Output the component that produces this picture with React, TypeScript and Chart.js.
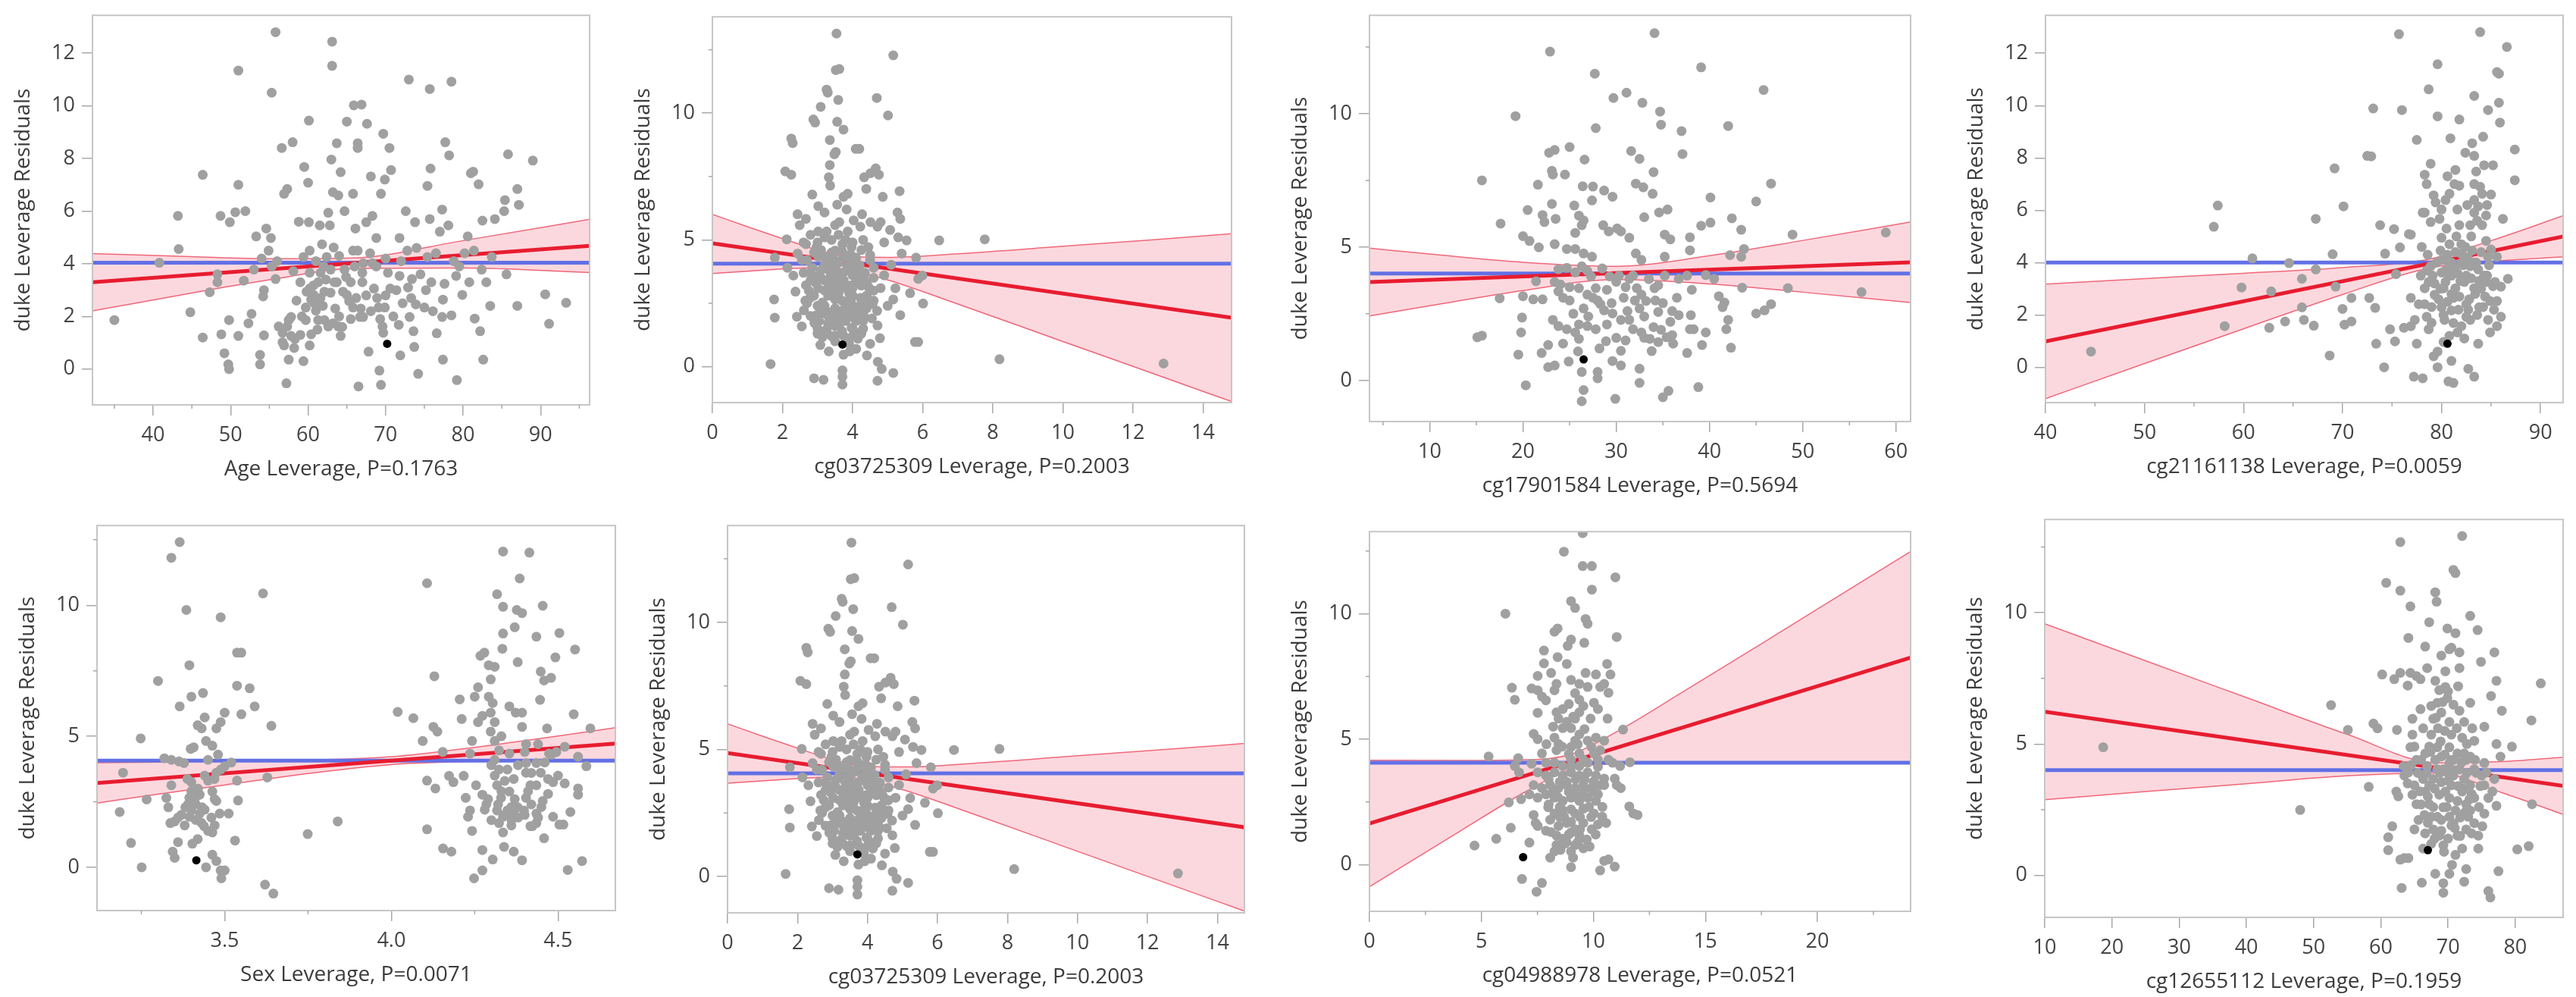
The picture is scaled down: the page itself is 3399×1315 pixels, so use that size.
import React, { useEffect, useRef } from 'react';
import { Chart, registerables } from 'chart.js';

Chart.register(...registerables);

type Pair = [number, number];

const Y_TITLE = 'duke Leverage Residuals';
const FONT = "'Open Sans', 'DejaVu Sans', sans-serif";
const Y_AXIS_W = 108;
const X_AXIS_H = 102;
const PAD_T = 20;
const PAD_R = 20;

const GREY = 'rgb(160,160,160)';
const RED = 'rgb(232,28,48)';
const BLUE = 'rgb(98,112,230)';
const BAND = 'rgba(235,60,90,0.2)';
const BAND_EDGE = 'rgba(238,90,110,0.9)';
const TICK_COLOR = '#a8a8a8';

// ---------- Panel 1: Age ----------
const ageXMajor = [40, 50, 60, 70, 80, 90];
const ageXMinor = [35, 45, 55, 65, 75, 85, 95];
const ageXLabels = ['40', '50', '60', '70', '80', '90'];
const evenYMajor = [0, 2, 4, 6, 8, 10, 12];
const evenYLabels = ['0', '2', '4', '6', '8', '10', '12'];
const noMinor: number[] = [];
const agePoints: Pair[] = [[35.0,1.86],[40.8,4.04],[43.2,5.82],[43.3,4.56],[44.8,2.16],[46.4,7.38],[46.4,1.2],[47.3,2.92],[48.7,5.82],[48.3,3.6],[48.3,3.3],[48.8,1.32],[49.2,0.6],[49.8,1.86],[49.7,0.18],[49.8,0.0],[49.9,5.58],[50.6,5.96],[51.0,11.34],[51.0,7.0],[51.0,1.26],[51.7,3.36],[51.9,6.0],[52.7,2.1],[52.3,1.74],[53.0,3.78],[53.3,5.04],[53.8,0.54],[53.8,0.18],[54.3,1.28],[54.3,3.0],[54.2,2.76],[54.6,5.34],[54.9,4.5],[55.2,4.98],[55.3,10.5],[55.3,3.9],[55.8,12.8],[55.8,3.42],[56.6,8.4],[56.9,6.66],[57.3,6.84],[58.0,8.62],[56.7,1.38],[56.9,0.9],[57.3,1.62],[57.5,1.86],[57.2,-0.54],[57.5,0.36],[58.1,3.72],[57.8,1.98],[58.3,1.14],[59.4,0.3],[59.5,7.68],[59.4,4.26],[59.7,2.34],[59.8,2.94],[60.0,7.08],[60.1,9.44],[60.1,5.58],[60.2,4.5],[60.2,3.66],[60.2,0.9],[60.4,1.32],[60.4,2.64],[60.7,3.18],[61.0,2.22],[61.3,3.3],[61.5,5.46],[61.6,2.7],[61.8,4.74],[62.1,2.94],[62.4,4.26],[62.6,5.94],[62.8,5.46],[63.1,12.44],[63.1,11.52],[63.0,7.96],[63.2,6.72],[63.3,4.62],[62.9,3.78],[63.4,3.3],[63.7,8.58],[63.9,6.6],[64.2,7.48],[63.9,1.62],[64.2,1.26],[64.5,2.94],[64.7,6.0],[65.0,9.4],[65.3,2.58],[65.5,3.3],[65.8,6.66],[65.9,10.02],[66.4,8.58],[66.4,8.4],[66.4,4.5],[66.5,-0.66],[66.1,5.34],[66.7,1.98],[66.9,10.05],[67.0,3.3],[67.1,4.02],[67.5,5.58],[67.6,9.32],[67.8,0.66],[68.1,7.32],[68.3,5.82],[68.8,3.9],[68.8,4.98],[69.1,2.34],[69.2,-0.06],[69.4,-0.6],[69.4,6.66],[69.7,8.94],[69.7,1.38],[69.9,7.2],[70.3,3.66],[70.5,8.4],[70.6,3.06],[70.7,7.56],[71.8,4.98],[71.8,3.54],[71.9,0.52],[71.7,1.68],[72.6,6.0],[73.0,11.0],[72.8,4.5],[73.1,1.98],[73.4,3.42],[73.6,1.44],[73.7,0.84],[73.8,5.58],[73.9,2.46],[74.2,-0.18],[75.0,2.34],[75.4,6.96],[75.7,10.64],[75.8,7.62],[75.7,5.7],[75.4,4.26],[75.9,3.3],[76.6,1.36],[77.0,5.22],[77.3,6.06],[77.4,2.64],[77.4,0.36],[77.3,1.98],[77.6,3.24],[77.7,8.62],[78.1,5.46],[78.2,8.12],[78.5,10.92],[78.5,2.04],[79.1,3.54],[79.2,-0.42],[79.5,3.9],[79.9,2.82],[80.6,5.04],[80.8,3.3],[81.0,7.44],[81.3,7.5],[81.4,4.5],[81.5,1.92],[82.0,7.02],[82.2,1.44],[82.4,3.78],[82.5,5.64],[82.6,0.36],[83.0,3.3],[83.5,2.4],[83.7,4.26],[84.1,5.7],[85.3,6.0],[85.4,6.42],[85.6,3.6],[85.8,8.16],[87.0,2.4],[87.0,6.84],[87.2,6.24],[89.0,7.92],[90.6,2.84],[91.1,1.72],[93.3,2.52],[59.7,1.86],[60.2,3.06],[60.7,2.82],[61.3,1.86],[61.6,3.66],[62.1,1.86],[62.6,1.62],[63.2,1.74],[63.7,3.3],[64.7,3.78],[65.0,2.82],[65.8,2.34],[67.1,1.98],[67.0,3.66],[68.3,4.02],[68.5,3.06],[69.9,2.34],[69.6,1.62],[65.8,4.5],[56.7,1.02],[57.8,1.26],[56.2,1.62],[58.5,2.6],[59.0,3.3],[59.2,2.0],[60.8,2.5],[61.2,1.5],[61.9,2.4],[62.3,3.4],[62.9,2.9],[63.5,2.3],[64.0,2.0],[64.4,1.6],[64.9,3.5],[65.5,1.9],[66.2,2.7],[66.8,2.3],[67.5,2.8],[68.1,2.2],[68.9,2.7],[69.3,1.9],[70.0,2.8],[71.0,2.0],[71.4,3.0],[72.2,2.5],[72.9,3.1],[73.3,2.7],[74.5,3.6],[75.2,3.0],[76.1,2.2],[58.2,0.8],[59.0,1.3],[61.0,4.1],[62.0,3.9],[64.0,4.3],[66.0,3.9],[68.0,4.4],[70.0,4.2],[72.0,4.1],[74.0,4.6],[76.5,4.4],[78.8,4.1],[80.2,4.4],[56.0,4.1],[54.0,4.2],[58.8,5.6]];
const ageHighlight: Pair[] = [[70.2, 0.96]];
const ageMean = [4.04];
const ageFit: Pair[] = [[32.17, 3.3], [96.33, 4.68]];
const ageBandX = [32.17, 45, 55, 65.8, 80, 96.33];
const ageBandUpper = [4.39, 4.27, 4.19, 4.22, 4.88, 5.69];
const ageBandLower = [2.21, 2.89, 3.39, 3.82, 3.84, 3.67];

// ---------- Panels 2 & 6: cg03725309 ----------
const cg037XMajor = [0, 2, 4, 6, 8, 10, 12, 14];
const cg037XLabels = ['0', '2', '4', '6', '8', '10', '12', '14'];
const fiveYMajor = [0, 5, 10];
const fiveYMinor = [2.5, 7.5, 12.5];
const fiveYLabels = ['0', '5', '10'];
const cg037Points: Pair[] = [[3.54,13.14],[5.16,12.28],[3.52,11.7],[3.62,11.74],[3.26,10.93],[3.29,10.81],[3.59,10.52],[4.69,10.6],[3.09,10.25],[5.01,9.91],[2.88,9.75],[2.93,9.63],[3.56,9.66],[3.74,9.35],[2.25,9.0],[2.29,8.82],[3.35,8.94],[4.09,8.59],[4.19,8.59],[3.52,8.47],[3.48,8.38],[3.35,7.95],[2.08,7.7],[2.25,7.57],[4.33,7.47],[4.51,7.63],[4.66,7.82],[4.75,7.57],[3.32,7.47],[3.36,7.14],[3.86,6.82],[3.74,6.7],[4.39,7.01],[5.34,6.92],[2.85,6.79],[4.86,6.7],[3.56,6.39],[3.02,6.33],[2.43,6.01],[2.49,5.58],[3.2,6.08],[3.83,6.2],[4.27,6.01],[5.28,6.08],[5.36,5.83],[2.67,5.83],[3.5,5.58],[3.62,5.7],[4.03,5.77],[4.51,5.7],[5.07,5.39],[2.12,5.02],[3.02,5.33],[3.26,5.33],[3.86,5.33],[4.22,5.52],[4.71,5.52],[4.8,5.7],[5.54,4.98],[6.47,4.98],[7.77,5.02],[2.67,4.83],[2.97,4.71],[3.5,4.58],[3.71,4.83],[3.97,4.71],[4.45,4.71],[1.78,4.3],[2.43,4.46],[2.55,4.21],[3.02,4.33],[3.32,4.21],[3.71,4.27],[3.97,4.15],[5.4,4.46],[5.81,4.3],[5.1,4.02],[2.14,3.9],[2.31,3.59],[2.79,3.71],[3.02,3.59],[3.38,3.59],[3.74,3.71],[4.09,3.71],[4.33,3.59],[5.99,3.59],[5.87,3.46],[2.67,3.21],[3.02,3.09],[3.32,3.21],[3.68,3.09],[3.97,3.21],[4.45,3.15],[2.37,2.96],[5.64,2.9],[5.22,3.09],[1.76,2.65],[2.79,2.71],[3.14,2.53],[3.5,2.65],[3.86,2.59],[4.22,2.71],[4.57,2.47],[5.16,2.65],[6.01,2.49],[2.61,2.22],[2.97,2.03],[3.32,2.15],[3.68,2.03],[3.97,2.22],[4.33,1.97],[1.78,1.93],[2.41,1.97],[5.36,2.03],[2.55,1.59],[2.91,1.72],[3.26,1.47],[3.62,1.66],[3.97,1.53],[4.22,1.35],[4.71,1.62],[3.14,1.16],[3.5,1.22],[3.86,1.1],[4.15,1.1],[4.78,1.12],[5.78,0.97],[5.87,0.97],[3.08,0.85],[3.32,0.6],[3.74,0.47],[3.92,0.6],[4.41,0.44],[4.72,0.19],[4.83,-0.09],[5.16,-0.25],[8.19,0.29],[12.87,0.12],[1.66,0.1],[2.9,-0.46],[3.17,-0.52],[3.71,-0.15],[3.71,-0.4],[3.71,-0.71],[4.71,-0.56],[3.2,4.0],[3.5,3.9],[3.8,4.4],[4.1,4.3],[3.6,3.4],[3.9,2.9],[3.3,2.8],[4.2,3.3],[3.5,2.3],[3.8,1.8],[4.0,2.4],[3.4,1.9],[4.4,2.3],[3.1,3.5],[4.6,3.9],[4.9,3.6],[4.9,4.9],[5.3,5.1],[2.8,3.4],[3.0,2.4],[3.1,4.6],[3.3,3.9],[3.4,4.5],[3.6,4.1],[3.7,2.6],[3.8,3.2],[3.9,3.8],[4.0,2.8],[4.1,3.5],[4.2,4.0],[4.3,2.6],[4.4,3.3],[4.5,4.2],[4.6,3.0],[4.7,2.2],[3.0,1.3],[3.3,1.7],[3.5,1.0],[3.7,1.4],[3.9,2.1],[4.1,1.8],[4.3,1.5],[4.5,0.9],[3.2,3.0],[3.4,3.3],[3.6,2.9],[3.8,2.4],[4.0,1.2],[4.2,2.1],[4.4,2.8],[4.6,2.6],[2.7,2.5],[2.9,1.9],[3.1,2.1],[3.6,1.8],[4.0,3.1],[4.8,3.1],[5.0,2.4],[2.6,4.9],[2.8,5.2],[3.0,4.9],[3.2,5.1],[3.4,5.0],[3.6,5.2],[3.8,5.0],[4.0,4.9],[4.3,5.0],[2.7,4.2],[2.9,4.5],[3.15,4.35],[3.45,4.25],[3.7,4.55],[3.95,4.4],[4.25,4.6],[4.5,4.4],[2.6,3.7],[2.85,3.9],[3.1,3.8],[3.35,3.75],[3.6,3.6],[3.85,3.95],[4.1,3.85],[4.35,3.7],[4.6,3.5],[2.75,3.0],[2.95,3.3],[3.2,3.4],[3.5,3.2],[3.75,3.4],[4.0,3.6],[4.25,3.2],[4.5,3.0],[2.65,2.6],[2.9,2.8],[3.2,2.4],[3.45,2.9],[3.7,2.2],[3.95,2.6],[4.2,2.4],[4.45,2.5],[2.8,2.0],[3.05,1.8],[3.3,2.0],[3.55,2.1],[3.8,2.2],[4.05,1.9],[4.3,1.8],[4.55,1.9],[3.0,1.5],[3.25,1.4],[3.5,1.6],[3.75,1.2],[4.0,1.5],[4.25,1.3],[3.4,1.2],[3.9,0.9],[4.1,0.7]];
const cg037Highlight: Pair[] = [[3.71, 0.87]];
const cg037Mean = [4.06];
const cg037Fit: Pair[] = [[0, 4.86], [14.81, 1.93]];
const cg037BandX = [0, 1, 2, 3, 3.8, 5, 7, 10, 12.5, 14.81];
const cg037BandUpper = [6.01, 5.52, 5.05, 4.6, 4.35, 4.31, 4.45, 4.75, 5.0, 5.24];
const cg037BandLower = [3.67, 3.76, 3.85, 3.9, 3.83, 3.42, 2.47, 0.99, -0.24, -1.38];

// ---------- Panel 3: cg17901584 ----------
const cg179XMajor = [10, 20, 30, 40, 50, 60];
const cg179XMinor = [5, 15, 25, 35, 45, 55];
const cg179XLabels = ['10', '20', '30', '40', '50', '60'];
const cg179Points: Pair[] = [[34.1,13.02],[22.9,12.33],[39.1,11.74],[27.7,11.5],[45.8,10.89],[31.1,10.79],[29.7,10.59],[32.8,10.41],[34.7,10.08],[34.8,9.59],[19.2,9.91],[42.0,9.54],[27.8,9.46],[37.0,9.35],[25.0,8.75],[22.8,8.54],[23.4,8.64],[31.6,8.6],[32.5,8.31],[26.6,8.28],[37.1,8.49],[23.1,7.86],[23.2,7.72],[24.5,7.72],[34.0,7.81],[15.6,7.5],[46.6,7.38],[21.6,7.34],[26.4,7.28],[27.5,7.27],[28.7,7.12],[29.6,6.89],[32.1,7.38],[32.9,7.24],[33.9,7.0],[27.4,6.75],[40.1,6.86],[45.0,6.71],[23.1,6.62],[25.5,6.56],[20.5,6.39],[34.6,6.3],[35.5,6.41],[22.1,6.2],[22.3,5.94],[23.5,6.06],[33.0,6.12],[42.4,6.08],[26.0,6.18],[26.5,6.0],[26.3,5.82],[17.6,5.88],[39.1,5.8],[40.1,5.92],[28.6,5.82],[29.2,5.59],[30.1,5.7],[30.5,5.59],[31.4,5.35],[43.4,5.65],[25.6,5.53],[48.9,5.47],[58.9,5.55],[20.0,5.41],[20.7,5.23],[35.2,5.47],[35.8,5.29],[37.9,5.37],[23.4,5.11],[21.7,4.99],[24.7,4.93],[25.6,4.93],[26.5,4.76],[27.4,4.64],[32.1,4.76],[32.7,4.52],[35.2,4.64],[37.9,4.88],[43.7,4.93],[43.4,4.64],[42.2,4.7],[23.8,4.17],[24.7,4.22],[25.6,4.05],[26.3,4.28],[26.9,4.11],[21.4,3.72],[30.3,3.93],[31.4,3.81],[31.8,3.93],[35.2,3.93],[36.7,3.81],[37.6,3.93],[39.6,3.95],[40.5,3.81],[43.5,3.48],[48.4,3.46],[56.3,3.31],[23.4,3.69],[23.8,3.34],[24.3,3.1],[26.0,3.46],[26.9,3.22],[27.8,3.46],[32.2,3.46],[32.7,3.22],[33.2,2.98],[34.1,3.46],[34.5,3.57],[38.1,3.4],[17.5,3.08],[20.0,3.16],[21.1,3.04],[22.1,3.04],[41.0,3.16],[41.6,2.92],[41.4,2.75],[46.6,2.86],[45.9,2.63],[45.0,2.51],[28.3,2.86],[28.7,2.63],[29.6,2.51],[30.5,2.27],[31.4,2.27],[34.5,2.57],[36.7,2.45],[38.0,2.45],[19.9,2.36],[23.2,2.27],[42.0,2.27],[19.8,1.8],[15.1,1.62],[15.6,1.68],[23.8,2.04],[24.7,1.92],[25.6,1.8],[26.0,1.56],[26.9,2.04],[27.8,1.92],[31.8,1.92],[32.7,1.8],[33.6,1.56],[34.5,1.44],[35.4,1.62],[36.1,1.38],[37.9,1.92],[38.3,1.92],[39.6,1.8],[41.8,1.92],[42.3,1.23],[28.9,1.47],[22.7,1.33],[24.3,1.38],[37.6,1.03],[39.2,1.33],[19.5,0.97],[22.0,1.03],[30.5,1.11],[25.9,1.09],[29.6,0.73],[30.5,0.56],[24.9,0.71],[22.7,0.5],[23.4,0.56],[32.5,0.44],[26.3,0.32],[28.0,0.32],[28.0,0.08],[20.3,-0.18],[32.5,-0.09],[38.8,-0.25],[26.5,-0.36],[35.6,-0.39],[35.0,-0.63],[29.9,-0.69],[26.3,-0.78],[24.0,3.6],[25.0,3.0],[25.4,2.5],[26.5,2.7],[27.3,3.9],[28.0,3.0],[28.5,4.2],[29.0,3.4],[29.5,2.9],[30.0,3.7],[30.8,3.1],[31.2,2.6],[32.0,3.0],[33.0,2.4],[33.5,3.8],[34.0,2.0],[35.0,2.9],[35.8,2.2],[36.5,3.1],[33.0,1.6],[34.8,1.9],[30.0,1.6],[27.0,2.4],[25.0,3.5],[28.2,1.2],[36.0,1.7],[26.0,2.1],[27.5,3.1],[29.3,3.9],[31.0,3.5],[32.5,2.7],[34.2,3.0],[36.0,2.6],[31.0,1.5],[33.8,1.1],[29.0,2.1]];
const cg179Highlight: Pair[] = [[26.5, 0.79]];
const cg179Mean = [4.01];
const cg179Fit: Pair[] = [[3.54, 3.69], [61.56, 4.43]];
const cg179BandX = [3.54, 10, 20, 30, 40, 50, 61.56];
const cg179BandUpper = [4.96, 4.74, 4.43, 4.28, 4.68, 5.25, 5.94];
const cg179BandLower = [2.42, 2.8, 3.37, 3.78, 3.62, 3.31, 2.92];

// ---------- Panel 4: cg21161138 ----------
const cg211XMajor = [40, 50, 60, 70, 80, 90];
const cg211XMinor = [45, 55, 65, 75, 85];
const cg211XLabels = ['40', '50', '60', '70', '80', '90'];
const cg211Points: Pair[] = [[44.6,0.6],[57.0,5.37],[57.4,6.18],[58.1,1.57],[59.8,3.05],[60.9,4.16],[62.6,1.51],[62.8,2.9],[64.2,1.75],[64.6,3.98],[65.9,3.38],[65.9,2.29],[66.1,1.81],[67.1,1.59],[67.3,5.67],[67.3,3.74],[68.7,0.45],[69.0,4.32],[69.2,7.6],[69.3,3.08],[70.0,2.23],[70.1,6.15],[70.2,1.63],[70.9,2.65],[70.9,1.75],[72.5,8.08],[72.9,8.06],[72.7,2.65],[73.1,9.89],[73.3,2.27],[73.4,0.9],[73.8,5.43],[74.2,0.0],[74.3,4.34],[74.8,1.45],[75.2,5.28],[75.3,0.99],[75.4,3.56],[75.7,12.73],[75.8,4.58],[76.0,9.83],[76.2,1.51],[76.7,5.09],[76.9,5.07],[76.9,1.57],[77.2,-0.36],[77.5,8.69],[77.5,0.9],[77.9,3.5],[78.1,-0.42],[78.1,5.91],[78.3,7.36],[78.5,7.0],[78.3,2.41],[78.5,1.93],[78.7,1.45],[78.7,10.62],[78.9,7.78],[78.9,3.86],[78.7,3.26],[79.2,6.57],[79.2,0.42],[79.6,11.58],[79.6,0.0],[79.6,9.59],[79.8,5.67],[80.0,4.95],[79.9,4.46],[80.0,3.62],[80.2,3.02],[80.0,2.29],[80.3,1.81],[80.6,7.3],[80.9,8.75],[80.8,3.98],[81.0,3.5],[81.2,2.65],[81.0,2.17],[81.2,1.69],[81.0,0.24],[81.2,-0.6],[80.7,-0.54],[81.4,7.54],[81.3,7.0],[81.6,6.03],[81.8,5.43],[82.0,4.7],[81.8,9.47],[81.8,6.94],[82.0,3.98],[82.3,3.26],[82.5,2.41],[82.5,1.93],[82.4,8.2],[82.7,-0.06],[83.3,-0.36],[83.1,8.56],[83.3,10.37],[83.3,8.08],[83.3,7.0],[83.5,7.48],[83.3,6.39],[83.7,6.15],[84.1,6.63],[82.9,5.43],[83.3,5.91],[84.1,5.43],[83.1,4.46],[83.7,3.74],[83.3,3.02],[83.8,2.29],[82.9,1.81],[83.9,12.81],[84.2,8.81],[84.3,7.72],[84.5,4.83],[84.7,4.22],[84.5,3.26],[84.9,2.53],[84.7,1.81],[84.7,9.83],[84.9,1.33],[83.7,0.9],[85.2,7.72],[85.6,11.28],[85.8,11.22],[85.8,10.11],[85.9,9.35],[85.4,3.26],[85.6,2.53],[86.0,1.93],[85.6,4.22],[86.2,5.67],[86.6,12.24],[86.7,3.38],[87.4,8.32],[87.4,7.15],[86.0,3.08],[85.6,1.57],[78.3,3.02],[79.3,2.77],[80.4,3.26],[81.4,3.02],[82.5,3.5],[80.0,4.1],[80.8,4.7],[82.0,4.34],[82.9,3.86],[84.3,3.5],[78.3,5.91],[78.9,5.55],[80.0,6.03],[80.4,6.39],[80.8,6.63],[79.6,0.6],[80.2,0.97],[81.6,1.33],[82.0,1.57],[76.9,2.65],[77.3,1.81],[77.7,2.41],[78.0,4.6],[78.6,4.3],[79.1,3.5],[79.5,4.0],[80.4,3.7],[80.6,4.3],[81.0,4.0],[81.4,4.4],[81.6,3.6],[82.2,3.9],[82.6,4.2],[83.0,3.4],[83.5,4.0],[84.0,3.0],[84.0,4.4],[84.8,3.9],[85.2,3.1],[79.7,2.6],[80.6,2.5],[81.7,2.2],[82.8,2.6],[83.6,2.0],[84.4,2.7],[79.0,1.7],[80.8,1.2],[82.3,1.1],[83.0,5.0],[84.5,5.8],[85.0,6.6],[83.9,6.9],[78.5,3.7],[79.3,3.2],[79.9,3.0],[80.7,3.5],[81.3,3.8],[81.9,3.3],[82.4,4.6],[83.2,4.0],[83.8,3.3],[84.6,3.5],[85.0,4.5],[79.0,2.3],[80.2,2.0],[81.0,2.8],[81.8,2.7],[82.7,2.2],[83.4,2.8],[84.2,2.3],[85.3,2.2],[80.5,5.3],[81.5,5.0],[82.6,6.2],[83.6,5.6],[84.6,6.2],[79.4,6.3]];
const cg211Highlight: Pair[] = [[80.6, 0.9]];
const cg211Mean = [4.0];
const cg211Fit: Pair[] = [[40, 0.99], [92.28, 5.0]];
const cg211BandX = [40, 50, 60, 70, 78.6, 85, 92.28];
const cg211BandUpper = [3.18, 3.39, 3.59, 3.81, 4.12, 4.84, 5.79];
const cg211BandLower = [-1.2, 0.14, 1.47, 2.78, 3.78, 4.04, 4.22];

// ---------- Panel 5: Sex ----------
const sexXMajor = [3.5, 4.0, 4.5];
const sexXMinor = [3.25, 3.75, 4.25];
const sexXLabels = ['3.5', '4.0', '4.5'];
const sexPoints: Pair[] = [[3.185,2.11],[3.195,3.61],[3.219,0.93],[3.248,4.92],[3.251,0.0],[3.266,2.59],[3.30,7.11],[3.319,4.16],[3.34,4.1],[3.363,4.04],[3.378,3.98],[3.325,2.65],[3.331,2.29],[3.337,1.69],[3.35,1.75],[3.34,11.81],[3.365,12.41],[3.365,6.14],[3.34,3.13],[3.344,0.6],[3.35,0.36],[3.36,0.96],[3.385,9.82],[3.394,7.71],[3.398,4.52],[3.407,4.58],[3.40,6.51],[3.388,3.37],[3.40,3.25],[3.382,2.29],[3.40,2.17],[3.413,2.41],[3.425,2.05],[3.394,1.93],[3.413,1.81],[3.432,2.29],[3.394,2.65],[3.425,2.77],[3.403,0.9],[3.435,6.65],[3.419,5.42],[3.431,5.3],[3.44,5.72],[3.419,1.08],[3.444,0.0],[3.438,1.57],[3.45,1.39],[3.463,1.33],[3.444,4.82],[3.463,4.64],[3.45,3.31],[3.469,3.37],[3.475,3.61],[3.488,3.73],[3.50,3.86],[3.463,2.89],[3.475,2.53],[3.488,9.54],[3.475,5.3],[3.488,5.54],[3.50,5.9],[3.463,0.48],[3.475,0.24],[3.488,-0.12],[3.50,-0.12],[3.49,-0.42],[3.485,2.05],[3.512,2.05],[3.537,8.19],[3.55,8.19],[3.537,6.93],[3.537,3.31],[3.54,2.55],[3.531,1.02],[3.55,5.84],[3.575,6.83],[3.59,6.14],[3.615,10.45],[3.628,3.43],[3.621,-0.66],[3.64,5.4],[3.646,-1.0],[3.749,1.27],[3.839,1.75],[4.019,5.93],[4.066,5.69],[4.094,4.82],[4.107,10.84],[4.107,3.31],[4.132,3.01],[4.107,1.45],[4.129,7.29],[4.126,5.36],[4.138,5.18],[4.154,4.4],[4.155,0.72],[4.18,0.6],[4.173,3.49],[4.186,3.25],[4.205,6.41],[4.211,5.66],[4.217,3.49],[4.223,2.65],[4.236,2.17],[4.23,1.93],[4.242,4.82],[4.236,4.34],[4.242,1.39],[4.248,-0.42],[4.25,6.51],[4.26,6.87],[4.26,5.54],[4.273,5.78],[4.267,8.07],[4.279,8.19],[4.273,0.66],[4.273,-0.12],[4.254,3.13],[4.273,2.77],[4.285,2.41],[4.292,7.71],[4.31,7.65],[4.298,7.17],[4.292,6.51],[4.304,6.27],[4.298,5.9],[4.31,5.54],[4.298,5.18],[4.31,4.82],[4.323,4.46],[4.31,4.1],[4.323,3.73],[4.304,0.3],[4.317,10.42],[4.317,3.13],[4.329,2.65],[4.317,2.17],[4.335,1.93],[4.323,1.69],[4.335,12.05],[4.335,9.94],[4.335,8.92],[4.333,8.34],[4.338,0.78],[4.348,2.17],[4.367,2.05],[4.379,2.29],[4.36,1.81],[4.354,6.14],[4.373,5.9],[4.392,5.9],[4.354,4.34],[4.348,3.73],[4.367,3.37],[4.354,2.89],[4.37,9.16],[4.376,9.82],[4.392,9.7],[4.379,7.83],[4.385,11.02],[4.392,5.36],[4.392,0.27],[4.404,4.7],[4.404,3.98],[4.404,3.61],[4.417,3.13],[4.404,2.65],[4.398,2.17],[4.414,12.01],[4.417,1.57],[4.435,8.8],[4.446,6.39],[4.435,3.98],[4.448,3.61],[4.435,3.13],[4.454,2.53],[4.435,2.05],[4.448,7.47],[4.454,9.98],[4.458,7.13],[4.458,1.11],[4.423,1.57],[4.435,1.69],[4.467,5.3],[4.473,4.34],[4.47,3.37],[4.485,3.25],[4.479,7.23],[4.485,1.93],[4.504,1.63],[4.516,1.63],[4.492,8.01],[4.495,4.4],[4.504,8.94],[4.529,-0.1],[4.537,2.11],[4.547,5.84],[4.551,8.31],[4.56,4.22],[4.56,3.01],[4.56,2.77],[4.572,0.24],[4.585,3.86],[4.597,5.3],[4.367,0.6],[4.335,1.33],[3.37,2.0],[3.39,2.4],[3.41,2.6],[3.43,1.7],[3.36,1.9],[3.44,2.2],[3.46,1.9],[3.47,2.6],[3.42,3.0],[3.45,4.1],[3.48,4.3],[3.52,4.0],[4.28,2.2],[4.30,1.8],[4.32,2.4],[4.34,2.0],[4.36,2.3],[4.38,1.9],[4.40,2.0],[4.42,2.4],[4.31,3.5],[4.34,3.3],[4.38,3.9],[4.42,3.6],[4.46,4.0],[4.50,3.5],[4.52,3.2],[4.40,4.4],[4.44,4.7],[4.33,5.0],[3.40,2.9],[3.44,3.5],[3.38,1.6],[3.47,1.6],[4.29,2.6],[4.33,2.9],[4.37,2.6],[4.41,2.9],[4.45,2.3],[4.47,2.8],[4.36,1.6],[4.44,1.9],[4.30,3.9],[4.48,4.3],[4.52,4.6]];
const sexHighlight: Pair[] = [[3.415, 0.27]];
const sexMean = [4.07];
const sexFit: Pair[] = [[3.117, 3.22], [4.672, 4.72]];
const sexBandX = [3.117, 3.3, 3.5, 3.75, 4.0, 4.25, 4.5, 4.672];
const sexBandUpper = [3.99, 4.01, 4.04, 4.09, 4.22, 4.58, 5.01, 5.33];
const sexBandLower = [2.45, 2.79, 3.14, 3.58, 3.92, 4.04, 4.09, 4.12];

// ---------- Panel 7: cg04988978 ----------
const cg049XMajor = [0, 5, 10, 15, 20];
const cg049XMinor = [2.5, 7.5, 12.5, 17.5, 22.5];
const cg049XLabels = ['0', '5', '10', '15', '20'];
const cg049Points: Pair[] = [[9.52,13.21],[8.68,12.47],[9.52,11.9],[9.93,11.9],[10.98,11.45],[9.93,10.96],[9.0,10.5],[9.18,10.23],[6.07,10.0],[9.65,9.79],[9.74,9.6],[8.4,9.41],[8.26,9.28],[11.04,9.07],[8.85,8.72],[9.0,8.97],[9.59,8.84],[7.79,8.53],[8.4,8.27],[7.79,8.02],[8.81,8.0],[10.61,8.0],[8.11,7.64],[9.65,7.64],[10.11,7.58],[10.76,7.58],[7.51,7.52],[6.36,7.05],[7.24,7.02],[7.51,6.95],[7.7,6.7],[8.35,7.2],[8.26,6.95],[9.0,7.36],[9.37,7.2],[9.74,7.08],[10.3,7.08],[10.48,7.2],[10.67,6.85],[6.49,6.57],[7.88,6.55],[9.18,6.83],[9.37,6.57],[9.55,6.32],[9.37,6.07],[9.18,5.82],[10.02,6.45],[10.2,6.2],[7.51,6.05],[8.35,6.07],[8.63,6.2],[8.44,5.82],[8.81,5.69],[8.63,5.44],[9.87,5.82],[10.63,5.82],[9.0,5.44],[9.37,5.19],[9.18,4.94],[9.0,4.69],[11.32,5.38],[7.33,5.21],[7.51,5.0],[8.26,5.06],[8.44,4.81],[8.35,4.56],[9.74,4.94],[10.11,5.06],[10.48,4.94],[10.3,4.56],[5.32,4.31],[6.64,4.24],[7.7,4.43],[7.88,4.06],[7.24,4.02],[6.49,3.93],[6.68,3.68],[9.37,4.43],[9.55,4.18],[9.37,3.93],[9.74,4.06],[10.02,4.43],[10.2,4.18],[10.67,4.18],[10.85,4.06],[11.19,3.93],[11.63,4.08],[8.26,4.06],[8.63,3.93],[9.0,4.18],[7.51,3.68],[7.88,3.55],[8.26,3.68],[8.63,3.55],[9.0,3.68],[9.37,3.55],[9.74,3.68],[10.11,3.55],[7.33,3.17],[7.7,3.05],[8.07,3.17],[8.44,3.05],[8.81,3.17],[9.18,3.05],[9.55,3.17],[9.92,3.05],[10.3,3.17],[10.48,3.43],[10.95,3.43],[11.04,3.17],[11.22,3.05],[7.14,2.8],[7.51,2.67],[7.88,2.8],[8.26,2.67],[8.63,2.54],[9.0,2.67],[9.37,2.54],[9.74,2.67],[10.11,2.54],[10.48,3.17],[6.77,2.61],[6.22,2.48],[11.6,2.32],[11.78,2.04],[11.97,1.98],[7.98,2.29],[8.26,2.04],[8.63,2.17],[9.18,2.04],[9.55,2.23],[10.02,2.04],[7.33,1.98],[7.42,1.66],[7.51,1.54],[8.07,1.79],[8.44,1.54],[8.81,1.66],[9.18,1.41],[9.55,1.66],[9.92,1.41],[10.39,1.91],[10.57,1.66],[6.31,1.47],[7.88,1.35],[8.35,1.16],[8.63,1.03],[9.0,1.28],[9.37,1.16],[5.66,1.03],[7.14,0.88],[8.35,0.78],[8.53,0.59],[8.72,0.84],[9.18,0.78],[9.55,0.65],[9.83,0.72],[4.69,0.76],[8.07,0.28],[8.26,0.53],[9.0,0.53],[9.09,0.28],[9.0,-0.1],[10.48,0.15],[10.3,-0.23],[10.67,0.21],[10.95,-0.08],[6.81,-0.57],[7.7,-0.73],[7.46,-1.08],[8.0,3.4],[8.5,3.3],[9.2,3.4],[9.6,3.4],[10.0,3.3],[8.2,2.9],[8.9,2.9],[9.5,2.8],[10.2,2.8],[8.5,2.3],[9.0,2.2],[9.8,2.3],[8.7,1.9],[9.4,1.9],[10.2,1.6],[8.9,1.2],[9.7,1.0],[8.9,4.4],[9.1,5.9],[8.9,6.4],[7.9,4.8],[8.2,5.5],[8.6,4.7],[9.0,3.9],[9.3,4.8],[9.6,5.4],[9.9,4.7],[10.2,3.9],[8.0,2.4],[8.4,2.7],[8.8,3.3],[9.2,2.7],[9.6,3.0],[10.0,2.9],[10.4,2.3],[8.1,1.3],[8.5,1.9],[9.0,1.7],[9.4,1.4],[9.9,1.9],[8.8,0.9],[9.3,0.9],[10.1,1.2]];
const cg049Highlight: Pair[] = [[6.86, 0.3]];
const cg049Mean = [4.06];
const cg049Fit: Pair[] = [[0, 1.64], [24.16, 8.25]];
const cg049BandX = [0, 4, 7, 9, 11, 14, 18, 24.16];
const cg049BandUpper = [4.16, 4.15, 4.18, 4.4, 5.28, 6.89, 9.08, 12.48];
const cg049BandLower = [-0.88, 1.31, 2.92, 3.8, 4.02, 4.05, 4.04, 4.02];

// ---------- Panel 8: cg12655112 ----------
const cg126XMajor = [10, 20, 30, 40, 50, 60, 70, 80];
const cg126XLabels = ['10', '20', '30', '40', '50', '60', '70', '80'];
const cg126Points: Pair[] = [[18.7,4.88],[48.0,2.49],[52.6,6.48],[55.1,5.54],[58.2,3.37],[58.9,5.78],[59.5,5.6],[60.2,7.65],[60.8,11.14],[61.1,1.45],[61.1,0.96],[61.7,1.87],[62.0,7.47],[62.9,7.71],[62.3,3.19],[62.6,3.01],[62.4,5.54],[62.9,10.84],[62.9,12.69],[62.9,0.6],[63.5,0.66],[64.1,0.66],[63.1,-0.48],[63.4,4.16],[63.5,3.8],[64.1,3.92],[64.0,7.23],[64.1,9.04],[64.4,7.71],[64.4,10.24],[64.7,5.96],[64.7,5.36],[64.4,4.88],[65.0,3.43],[64.7,3.07],[65.3,2.71],[65.3,7.59],[65.9,7.47],[65.6,2.11],[65.0,1.75],[65.9,6.33],[66.3,5.6],[66.1,-0.28],[66.3,1.02],[66.6,8.71],[66.6,4.64],[66.9,4.16],[66.3,3.67],[66.9,7.89],[67.2,9.64],[67.2,2.71],[67.5,2.23],[67.8,1.75],[67.5,6.45],[67.8,5.96],[67.5,5.36],[68.1,0.06],[68.1,7.41],[68.1,10.78],[68.3,10.42],[68.4,6.57],[68.7,7.05],[69.0,6.2],[68.4,4.88],[69.0,4.52],[68.4,4.04],[69.0,3.55],[68.7,3.07],[69.3,2.59],[69.0,2.11],[68.7,1.51],[69.3,1.14],[69.0,8.37],[69.3,-0.3],[69.3,-0.66],[69.6,7.77],[69.6,7.17],[69.9,6.75],[69.9,9.4],[70.2,0.06],[70.2,8.61],[70.5,8.67],[70.2,5.84],[70.5,5.36],[70.2,4.88],[70.5,4.4],[69.9,3.92],[70.5,3.43],[70.2,2.95],[70.8,11.63],[71.1,11.51],[71.1,9.22],[71.1,2.47],[70.8,1.99],[71.4,1.51],[71.7,8.49],[71.7,7.89],[71.7,6.27],[72.4,5.84],[72.1,5.24],[72.4,4.64],[71.7,4.04],[72.4,3.67],[72.1,3.19],[72.1,12.92],[72.4,-0.24],[72.7,0.24],[72.7,2.71],[73.0,2.23],[72.7,1.75],[73.3,9.88],[73.3,6.57],[73.6,5.6],[73.9,5.12],[73.3,4.52],[73.9,4.04],[73.3,3.43],[73.9,2.95],[73.3,2.47],[73.9,1.99],[74.4,9.34],[74.5,1.51],[75.1,1.87],[75.4,2.35],[74.9,8.13],[75.4,5.66],[75.4,4.28],[75.7,3.92],[75.4,3.43],[76.0,2.95],[76.0,-0.6],[76.3,-0.84],[76.4,6.83],[76.9,8.49],[77.2,7.41],[77.2,5.0],[77.2,2.65],[77.5,0.16],[77.8,4.52],[78.0,6.27],[76.9,3.67],[76.6,3.19],[79.5,4.9],[80.3,0.99],[82.0,1.11],[82.4,5.9],[82.5,2.71],[83.8,7.31],[65.3,4.4],[66.6,3.19],[67.8,3.67],[69.3,4.04],[70.2,4.28],[71.4,4.64],[72.7,4.4],[70.8,3.8],[69.6,3.19],[68.1,4.4],[67.2,3.43],[68.4,2.23],[70.2,2.23],[71.4,2.83],[72.1,1.02],[71.1,0.78],[74.5,1.02],[64.5,4.2],[65.5,3.9],[66.0,4.4],[66.8,3.9],[67.4,4.7],[68.0,3.3],[68.8,3.9],[69.5,4.6],[70.0,3.6],[70.8,4.4],[71.5,3.4],[72.0,4.3],[72.8,3.9],[73.5,3.1],[74.2,3.9],[74.8,3.4],[66.0,2.7],[67.0,2.0],[68.0,1.4],[69.0,1.7],[70.0,1.4],[71.0,1.8],[72.5,2.4],[73.5,1.6],[67.5,1.2],[69.5,5.5],[70.8,6.5],[71.3,5.6],[68.9,5.1],[67.2,4.9],[64.0,3.5],[65.0,4.9],[65.8,3.2],[66.5,2.3],[67.0,3.0],[67.8,2.6],[68.5,5.6],[69.2,6.6],[69.8,2.6],[70.5,1.9],[71.0,4.0],[71.8,2.2],[72.3,3.3],[72.8,5.0],[73.2,2.9],[74.0,4.4],[74.6,2.6],[75.0,3.8],[69.4,0.9],[70.6,0.4],[71.8,1.5],[66.6,1.6],[68.2,6.0],[70.0,7.0],[71.5,7.2]];
const cg126Highlight: Pair[] = [[67.0, 0.96]];
const cg126Mean = [4.01];
const cg126Fit: Pair[] = [[10, 6.23], [87.12, 3.41]];
const cg126BandX = [10, 25, 40, 55, 68.35, 78, 87.12];
const cg126BandUpper = [9.58, 8.17, 6.77, 5.37, 4.29, 4.33, 4.5];
const cg126BandLower = [2.88, 3.19, 3.49, 3.79, 3.89, 3.15, 2.32];

// ---------- panel specs ----------
interface PanelSpec {
  area: [number, number, number, number];
  xRange: [number, number];
  yRange: [number, number];
  xMajor: number[];
  xMinor: number[];
  xLabels: string[];
  yMajor: number[];
  yMinor: number[];
  yLabels: string[];
  xTitle: string;
  points: Pair[];
  highlight: Pair[];
  mean: number[];
  fit: Pair[];
  bandX: number[];
  bandUpper: number[];
  bandLower: number[];
}

const panels: PanelSpec[] = [
  { area: [122, 15, 778, 534], xRange: [32.17, 96.33], yRange: [-1.36, 13.44], xMajor: ageXMajor, xMinor: ageXMinor, xLabels: ageXLabels, yMajor: evenYMajor, yMinor: noMinor, yLabels: evenYLabels, xTitle: 'Age Leverage, P=0.1763', points: agePoints, highlight: ageHighlight, mean: ageMean, fit: ageFit, bandX: ageBandX, bandUpper: ageBandUpper, bandLower: ageBandLower },
  { area: [940, 17, 1625, 531], xRange: [0, 14.81], yRange: [-1.42, 13.8], xMajor: cg037XMajor, xMinor: noMinor, xLabels: cg037XLabels, yMajor: fiveYMajor, yMinor: fiveYMinor, yLabels: fiveYLabels, xTitle: 'cg03725309 Leverage, P=0.2003', points: cg037Points, highlight: cg037Highlight, mean: cg037Mean, fit: cg037Fit, bandX: cg037BandX, bandUpper: cg037BandUpper, bandLower: cg037BandLower },
  { area: [1807, 15, 2521, 556], xRange: [3.54, 61.56], yRange: [-1.54, 13.69], xMajor: cg179XMajor, xMinor: cg179XMinor, xLabels: cg179XLabels, yMajor: fiveYMajor, yMinor: fiveYMinor, yLabels: fiveYLabels, xTitle: 'cg17901584 Leverage, P=0.5694', points: cg179Points, highlight: cg179Highlight, mean: cg179Mean, fit: cg179Fit, bandX: cg179BandX, bandUpper: cg179BandUpper, bandLower: cg179BandLower },
  { area: [2699, 15, 3382, 531], xRange: [40, 92.28], yRange: [-1.35, 13.45], xMajor: cg211XMajor, xMinor: cg211XMinor, xLabels: cg211XLabels, yMajor: evenYMajor, yMinor: noMinor, yLabels: evenYLabels, xTitle: 'cg21161138 Leverage, P=0.0059', points: cg211Points, highlight: cg211Highlight, mean: cg211Mean, fit: cg211Fit, bandX: cg211BandX, bandUpper: cg211BandUpper, bandLower: cg211BandLower },
  { area: [128, 688, 812, 1201], xRange: [3.117, 4.672], yRange: [-1.65, 13.04], xMajor: sexXMajor, xMinor: sexXMinor, xLabels: sexXLabels, yMajor: fiveYMajor, yMinor: fiveYMinor, yLabels: fiveYLabels, xTitle: 'Sex Leverage, P=0.0071', points: sexPoints, highlight: sexHighlight, mean: sexMean, fit: sexFit, bandX: sexBandX, bandUpper: sexBandUpper, bandLower: sexBandLower },
  { area: [960, 688, 1642, 1204], xRange: [0, 14.77], yRange: [-1.43, 13.81], xMajor: cg037XMajor, xMinor: noMinor, xLabels: cg037XLabels, yMajor: fiveYMajor, yMinor: fiveYMinor, yLabels: fiveYLabels, xTitle: 'cg03725309 Leverage, P=0.2003', points: cg037Points, highlight: cg037Highlight, mean: cg037Mean, fit: cg037Fit, bandX: cg037BandX, bandUpper: cg037BandUpper, bandLower: cg037BandLower },
  { area: [1807, 696, 2521, 1202], xRange: [0, 24.16], yRange: [-1.86, 13.27], xMajor: cg049XMajor, xMinor: cg049XMinor, xLabels: cg049XLabels, yMajor: fiveYMajor, yMinor: fiveYMinor, yLabels: fiveYLabels, xTitle: 'cg04988978 Leverage, P=0.0521', points: cg049Points, highlight: cg049Highlight, mean: cg049Mean, fit: cg049Fit, bandX: cg049BandX, bandUpper: cg049BandUpper, bandLower: cg049BandLower },
  { area: [2698, 680, 3382, 1210], xRange: [10, 87.12], yRange: [-1.6, 13.55], xMajor: cg126XMajor, xMinor: noMinor, xLabels: cg126XLabels, yMajor: fiveYMajor, yMinor: fiveYMinor, yLabels: fiveYLabels, xTitle: 'cg12655112 Leverage, P=0.1959', points: cg126Points, highlight: cg126Highlight, mean: cg126Mean, fit: cg126Fit, bandX: cg126BandX, bandUpper: cg126BandUpper, bandLower: cg126BandLower },
];

const framePlugin = {
  id: 'plotFrame',
  afterDatasetsDraw(chart: any) {
    const { ctx, chartArea } = chart;
    const { left, top, right, bottom } = chartArea;
    ctx.save();
    ctx.strokeStyle = '#c6c6c6';
    ctx.lineWidth = 2;
    ctx.strokeRect(left, top, right - left, bottom - top);
    ctx.restore();
  },
};

// short minor tick marks, positioned through the chart's own scales
const minorTickPlugin = {
  id: 'minorTicks',
  afterDraw(chart: any, _args: any, opts: any) {
    const { ctx, chartArea, scales } = chart;
    ctx.save();
    ctx.strokeStyle = TICK_COLOR;
    ctx.lineWidth = 1.5;
    ctx.beginPath();
    (opts.x || []).forEach((v: number) => {
      const px = scales.x.getPixelForValue(v);
      ctx.moveTo(px, chartArea.bottom);
      ctx.lineTo(px, chartArea.bottom + 5);
    });
    (opts.y || []).forEach((v: number) => {
      const py = scales.y.getPixelForValue(v);
      ctx.moveTo(chartArea.left, py);
      ctx.lineTo(chartArea.left - 5, py);
    });
    ctx.stroke();
    ctx.restore();
  },
};

const pts = (pairs: Pair[]) => pairs.map(([x, y]) => ({ x, y }));
const zip = (xs: number[], ys: number[]) => xs.map((x, i) => ({ x, y: ys[i] }));

function axis(major: number[], labels: string[], range: [number, number], isX: boolean, title: string, pad: number) {
  return {
    type: 'linear' as const,
    min: range[0],
    max: range[1],
    bounds: 'data' as const,
    afterBuildTicks: (scale: any) => {
      scale.ticks = major.map((value) => ({ value }));
    },
    afterFit: (scale: any) => {
      if (isX) scale.height = X_AXIS_H;
      else scale.width = Y_AXIS_W;
    },
    grid: { drawOnChartArea: false, drawTicks: true, tickLength: 14, color: TICK_COLOR, lineWidth: 1.5 },
    border: { display: false },
    ticks: {
      autoSkip: false,
      maxRotation: 0,
      minRotation: 0,
      padding: pad,
      color: '#444',
      font: { family: FONT, size: 27 },
      callback: (_v: any, i: number) => labels[i] ?? '',
    },
    title: {
      display: true,
      text: title,
      color: '#3c3c3c',
      font: { family: FONT, size: 28 },
      padding: { top: 0, bottom: 0 },
    },
  };
}

function Panel({ spec }: { spec: PanelSpec }) {
  const ref = useRef<HTMLCanvasElement | null>(null);
  const [L, T, R, B] = spec.area;
  const w = R - L + Y_AXIS_W + PAD_R;
  const h = B - T + X_AXIS_H + PAD_T;

  useEffect(() => {
    if (!ref.current) return;
    const [x0, x1] = spec.xRange;
    const chart = new Chart(ref.current, {
      type: 'line',
      data: {
        datasets: [
          { data: zip(spec.bandX, spec.bandUpper), borderColor: BAND_EDGE, borderWidth: 1.5, backgroundColor: BAND, fill: '+1', pointRadius: 0, cubicInterpolationMode: 'monotone', order: 4, clip: 0 } as any,
          { data: zip(spec.bandX, spec.bandLower), borderColor: BAND_EDGE, borderWidth: 1.5, fill: false, pointRadius: 0, cubicInterpolationMode: 'monotone', order: 5, clip: 0 } as any,
          { data: pts(spec.fit), borderColor: RED, borderWidth: 5, fill: false, pointRadius: 0, order: 2, clip: 0 } as any,
          { data: [{ x: x0, y: spec.mean[0] }, { x: x1, y: spec.mean[0] }], borderColor: BLUE, borderWidth: 5, fill: false, pointRadius: 0, order: 3, clip: 0 } as any,
          { data: pts(spec.points), showLine: false, pointRadius: 6.5, pointBackgroundColor: GREY, pointBorderWidth: 0, borderColor: GREY, order: 1, clip: 0 } as any,
          { data: pts(spec.highlight), showLine: false, pointRadius: 5.5, pointBackgroundColor: '#000', pointBorderWidth: 0, borderColor: '#000', order: 0, clip: 0 } as any,
        ],
      },
      options: {
        responsive: false,
        animation: false,
        events: [],
        layout: { padding: { top: PAD_T, right: PAD_R, left: 0, bottom: 0 } },
        plugins: {
          legend: { display: false },
          tooltip: { enabled: false },
          title: { display: false },
          minorTicks: { x: spec.xMinor, y: spec.yMinor },
        } as any,
        scales: {
          x: axis(spec.xMajor, spec.xLabels, spec.xRange, true, spec.xTitle, 10) as any,
          y: axis(spec.yMajor, spec.yLabels, spec.yRange, false, Y_TITLE, 9) as any,
        },
      },
      plugins: [framePlugin, minorTickPlugin],
    });
    return () => chart.destroy();
  }, [spec]);

  return (
    <canvas
      ref={ref}
      width={w}
      height={h}
      style={{ position: 'absolute', left: L - Y_AXIS_W, top: T - PAD_T, width: w, height: h, display: 'block' }}
    />
  );
}

export default function App() {
  return (
    <div style={{ position: 'absolute', left: 0, top: 0, width: 3399, height: 1315, background: '#fff', overflow: 'hidden' }}>
      {panels.map((p, i) => (
        <Panel key={i} spec={p} />
      ))}
    </div>
  );
}
